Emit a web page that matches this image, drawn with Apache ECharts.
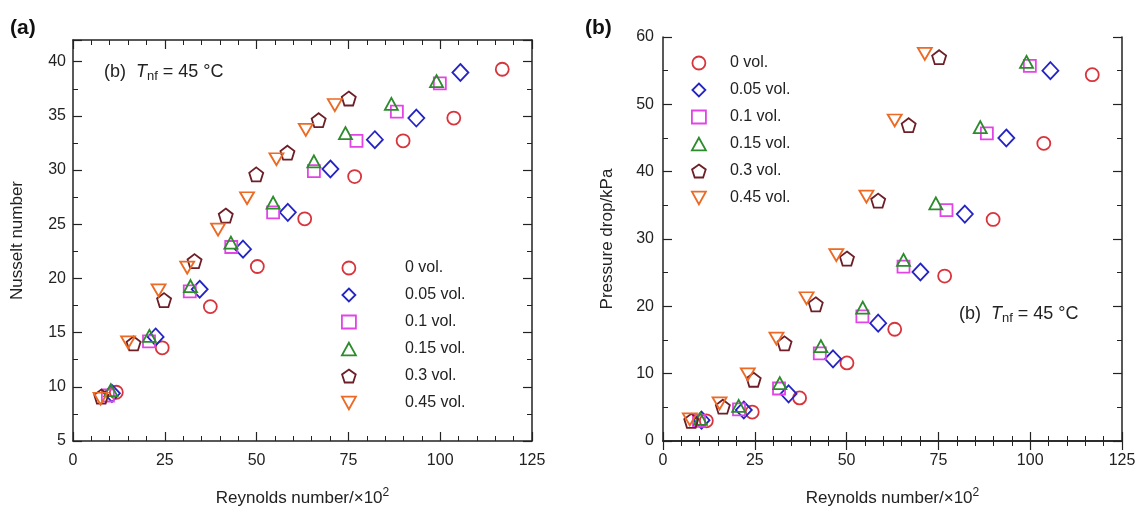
<!DOCTYPE html>
<html>
<head>
<meta charset="utf-8">
<script src="https://cdn.jsdelivr.net/npm/echarts@6/dist/echarts.min.js"></script>
<style>
  html, body { margin: 0; padding: 0; background: #fff; }
  #main { width: 1142px; height: 514px; }
</style>
</head>
<body>
<div id="main"></div>
<script>
var dom = document.getElementById("main");
var chart = echarts.init(dom);

// series names (legend)
var names = ['0 vol.', '0.05 vol.', '0.1 vol.', '0.15 vol.', '0.3 vol.', '0.45 vol.'];

// (a) Nusselt number vs Reynolds number (x10^2)
var nu_0    = [[11.8,9.5],[24.3,13.6],[37.4,17.4],[50.2,21.1],[63.1,25.5],[76.7,29.4],[89.9,32.7],[103.7,34.8],[116.9,39.3]];
var nu_005  = [[10.6,9.4],[22.5,14.6],[34.5,19.0],[46.3,22.7],[58.5,26.1],[70.1,30.1],[82.2,32.8],[93.5,34.8],[105.5,39.0]];
var nu_01   = [[9.5,9.2],[20.7,14.2],[31.8,18.8],[43.1,22.9],[54.5,26.1],[65.6,29.9],[77.2,32.7],[88.2,35.4],[99.9,38.0]];
var nu_015  = [[10.3,9.7],[20.8,14.7],[32.0,19.3],[43.0,23.3],[54.5,27.0],[65.6,30.8],[74.2,33.4],[86.7,36.1],[99.0,38.2]];
var nu_03   = [[7.7,9.1],[16.5,14.0],[24.8,18.0],[33.1,21.6],[41.6,25.8],[49.9,29.6],[58.4,31.6],[66.9,34.6],[75.1,36.6]];
var nu_045  = [[7.5,8.9],[15.0,14.1],[23.3,18.9],[31.1,21.0],[39.5,24.5],[47.4,27.4],[55.4,31.0],[63.4,33.7],[71.3,36.0]];

// (b) Pressure drop (kPa) vs Reynolds number (x10^2)
var dp_0    = [[11.8,3.0],[24.3,4.3],[37.2,6.4],[50.1,11.6],[63.1,16.6],[76.7,24.5],[89.9,32.9],[103.7,44.2],[116.9,54.4]];
var dp_005  = [[10.5,3.1],[22.0,4.6],[34.2,7.0],[46.3,12.2],[58.6,17.5],[70.1,25.1],[82.2,33.7],[93.5,45.0],[105.5,55.0]];
var dp_01   = [[9.8,3.0],[20.7,4.7],[31.6,7.8],[42.7,13.0],[54.3,18.5],[65.5,25.9],[77.2,34.3],[88.2,45.7],[99.9,55.7]];
var dp_015  = [[10.2,3.3],[20.6,5.2],[31.8,8.6],[43.0,14.1],[54.4,19.8],[65.5,26.9],[74.3,35.3],[86.4,46.6],[99.0,56.3]];
var dp_03   = [[7.7,3.0],[16.3,5.1],[24.7,9.1],[33.1,14.5],[41.6,20.3],[50.1,27.1],[58.6,35.7],[66.9,46.9],[75.2,57.0]];
var dp_045  = [[7.3,3.2],[15.4,5.6],[23.1,9.9],[30.9,15.2],[39.1,21.2],[47.2,27.6],[55.4,36.3],[63.1,47.6],[71.3,57.5]];

var colors = ['#d8343c', '#2424c4', '#e244e6', '#2c8c2c', '#6e1e26', '#ec6a24'];
var pentagon = 'path://M50,0 L97.6,34.5 L79.4,90.5 L20.6,90.5 L2.4,34.5 Z';
var symbols = ['circle', 'diamond', 'rect', 'triangle', pentagon, 'triangle'];
var sizes = [13, [16, 17], 12, [13, 12], 14, [14, 12]];
var rotates = [0, 0, 0, 0, 0, 180];

// legend icons (paths keep their aspect inside the legend box)
var legendIcons = [
  'circle',
  'path://M50,0 L100,50 L50,100 L0,50 Z',
  'rect',
  'path://M50,0 L100,90 L0,90 Z',
  pentagon,
  'path://M0,0 L100,0 L50,90 Z'
];

var FONT = 'Liberation Sans, Arial, sans-serif';

function makeSeries(datas, idx) {
  return datas.map(function (d, i) {
    return {
      name: names[i],
      type: 'scatter',
      xAxisIndex: idx === 0 ? 0 : 2,
      yAxisIndex: idx === 0 ? 0 : 4,
      data: d,
      symbol: symbols[i],
      symbolSize: sizes[i],
      symbolRotate: rotates[i],
      itemStyle: { color: 'rgba(255,255,255,0)', borderColor: colors[i], borderWidth: 1.8, opacity: 1 },
      emphasis: { disabled: true },
      z: 3
    };
  });
}

var axisLineStyle = { show: true, lineStyle: { color: '#222', width: 1.5 } };

function xAxisPair(grid, name) {
  return [
    {
      gridIndex: grid, type: 'value', min: 0, max: 125, interval: 25, position: 'bottom',
      name: name, nameLocation: 'middle', nameGap: 46,
      nameTextStyle: {
        fontFamily: FONT, color: '#222', fontSize: 17,
        rich: { a: { fontFamily: FONT, fontSize: 17, color: '#222' },
                s: { fontFamily: FONT, fontSize: 12, color: '#222', verticalAlign: 'bottom', padding: [0, 0, 10, 0] } }
      },
      axisLine: axisLineStyle, splitLine: { show: false },
      axisTick: { inside: true, length: 9, lineStyle: { color: '#222', width: 1.2 } },
      minorTick: { show: true, splitNumber: 5, length: 5, lineStyle: { color: '#222', width: 1 } },
      axisLabel: { fontFamily: FONT, fontSize: 16, color: '#222', margin: 12 }
    },
    {
      gridIndex: grid, type: 'value', min: 0, max: 125, interval: 25, position: 'top',
      axisLine: axisLineStyle, splitLine: { show: false },
      axisTick: { inside: true, length: 9, lineStyle: { color: '#222', width: 1.2 } },
      minorTick: { show: true, splitNumber: 5, length: 5, lineStyle: { color: '#222', width: 1 } },
      axisLabel: { show: false }
    }
  ];
}

function yAxisSet(grid, min, max, major, minor, name, gap, margin, labelFn) {
  var out = [];
  ['left', 'right'].forEach(function (pos) {
    out.push({
      gridIndex: grid, type: 'value', min: min, max: max, interval: major, position: pos,
      name: pos === 'left' ? name : '', nameLocation: 'middle', nameGap: gap, nameRotate: 90,
      nameTextStyle: { fontFamily: FONT, color: '#222', fontSize: 17 },
      axisLine: axisLineStyle, splitLine: { show: false },
      axisTick: { inside: true, length: 9, lineStyle: { color: '#222', width: 1.2 } },
      axisLabel: pos === 'left'
        ? { fontFamily: FONT, fontSize: 16, color: '#222', margin: margin, formatter: labelFn }
        : { show: false }
    });
    out.push({
      gridIndex: grid, type: 'value', min: min, max: max, interval: minor, position: pos,
      axisLine: { show: false }, splitLine: { show: false },
      axisTick: { inside: true, length: 5, lineStyle: { color: '#222', width: 1 } },
      axisLabel: { show: false }
    });
  });
  return out;
}

var xName = '{a|Reynolds number/×10}{s|2}';

function legendAt(left, top, textPad) {
  return {
    data: names.map(function (n, i) { return { name: n, icon: legendIcons[i] }; }),
    orient: 'vertical', left: left, top: top,
    itemWidth: 14, itemHeight: 13, itemGap: 11, selectedMode: false,
    itemStyle: { borderWidth: 1.8 },
    textStyle: { fontFamily: FONT, fontSize: 16, color: '#222', lineHeight: 16, padding: [0, 0, 0, textPad] }
  };
}

function tempLabel(left, top) {
  return {
    type: 'text', left: left, top: top,
    style: {
      text: '{n|(b)  }{i|T}{s|nf}{n| = 45 °C}',
      rich: {
        n: { fontFamily: FONT, fontSize: 18, fill: '#222' },
        i: { fontFamily: FONT, fontSize: 18, fontStyle: 'italic', fill: '#222' },
        s: { fontFamily: FONT, fontSize: 13, fill: '#222', verticalAlign: 'top', padding: [9, 0, 0, 0] }
      }
    }
  };
}

var option = {
  animation: false,
  textStyle: { fontFamily: FONT },
  grid: [
    { left: 73, top: 40, width: 459, height: 401 },
    { left: 663, top: 37, width: 459, height: 404 }
  ],
  xAxis: xAxisPair(0, xName).concat(xAxisPair(1, xName)),
  yAxis: yAxisSet(0, 5, 42, 5, 2.5, 'Nusselt number', 47, 7, function (v) {
      return v % 5 === 0 ? String(v) : '';
    })
    .concat(yAxisSet(1, 0, 60, 10, 5, 'Pressure drop/kPa', 47, 9, function (v) { return String(v); })),
  legend: [legendAt(336, 255, 44), legendAt(686, 50, 19)],
  graphic: [
    { type: 'text', left: 10, top: 18, style: { text: '(a)', font: 'bold 21px ' + FONT, fill: '#111' } },
    { type: 'text', left: 585, top: 18, style: { text: '(b)', font: 'bold 21px ' + FONT, fill: '#111' } },
    tempLabel(104, 63),
    tempLabel(959, 305)
  ],
  series: makeSeries([nu_0, nu_005, nu_01, nu_015, nu_03, nu_045], 0)
    .concat(makeSeries([dp_0, dp_005, dp_01, dp_015, dp_03, dp_045], 1))
};

chart.setOption(option);
</script>
</body>
</html>
